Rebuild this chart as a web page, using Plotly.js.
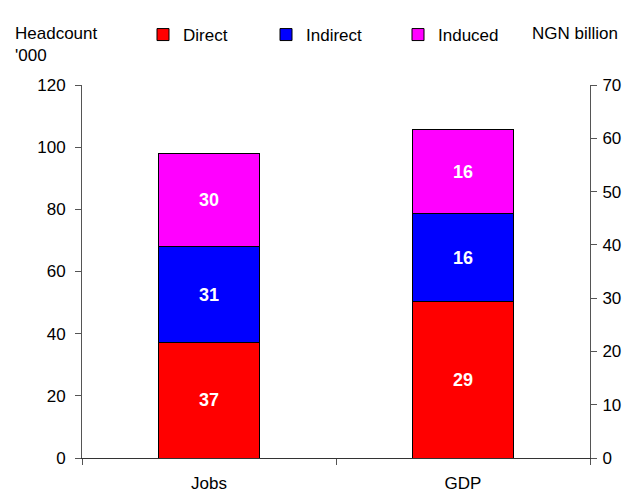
<!DOCTYPE html>
<html>
<head>
<meta charset="utf-8">
<script src="https://cdn.plot.ly/plotly-3.0.1.min.js"></script>
<style>html,body{margin:0;padding:0;background:#fff;}#chart{width:625px;height:493px;}</style>
</head>
<body>
<div id="chart"></div>
<script>
// Data
const categories = ['Jobs', 'GDP'];
const seriesNames = ['Direct', 'Indirect', 'Induced'];
const jobsValues = [37, 31, 30];          // headcount '000 (left axis)
const gdpValues = [29.4, 16.4, 15.9];     // NGN billion (right axis)
const leftTicks = [0, 20, 40, 60, 80, 100, 120];
const rightTicks = [0, 10, 20, 30, 40, 50, 60, 70];

const colors = ['#ff0000', '#0000ff', '#ff00ff'];
const FONT = 'Liberation Sans, Arial, sans-serif';
const legendIds = ['legend', 'legend2', 'legend3'];

const traces = [];
seriesNames.forEach((name, i) => {
  traces.push({
    type: 'bar', name: name, x: [categories[0]], y: [jobsValues[i]],
    xaxis: 'x', yaxis: 'y',
    marker: {color: colors[i], line: {color: '#000', width: 1}},
    texttemplate: '%{y:.0f}', textposition: 'inside',
    insidetextanchor: 'middle', textangle: 0,
    textfont: {family: FONT, size: 18, color: '#fff', weight: 'bold'},
    legend: legendIds[i], showlegend: true, hoverinfo: 'skip'
  });
  traces.push({
    type: 'bar', name: name, x: [categories[1]], y: [gdpValues[i]],
    xaxis: 'x', yaxis: 'y2',
    marker: {color: colors[i], line: {color: '#000', width: 1}},
    texttemplate: '%{y:.0f}', textposition: 'inside',
    insidetextanchor: 'middle', textangle: 0,
    textfont: {family: FONT, size: 18, color: '#fff', weight: 'bold'},
    legend: legendIds[i], showlegend: false, hoverinfo: 'skip'
  });
});

const L = 82, R = 35, W = 625, T = 85, B = 35, H = 493;
const pw = W - L - R, ph = H - T - B;
function px2x(p) { return (p - L) / pw; }
function py2y(p) { return (H - B - p) / ph; }

function legendAt(xpx) {
  return {
    orientation: 'h', x: px2x(xpx), xanchor: 'left', y: py2y(17), yanchor: 'top',
    font: {family: FONT, size: 17, color: '#000'}, bgcolor: 'rgba(0,0,0,0)',
    borderwidth: 0
  };
}

const layout = {
  width: W, height: H,
  margin: {l: L, r: R, t: T, b: B},
  paper_bgcolor: '#fff', plot_bgcolor: '#fff',
  barmode: 'stack', bargap: 0.6,
  font: {family: FONT, size: 17, color: '#000'},
  xaxis: {
    type: 'category', categoryorder: 'array', categoryarray: categories,
    range: [-0.5, 1.5], tickson: 'boundaries', ticks: 'outside', ticklen: 6,
    tickcolor: '#555', showline: true, linecolor: '#333', linewidth: 1,
    showgrid: false, zeroline: false, ticklabelstandoff: 10,
    tickfont: {family: FONT, size: 17, color: '#000'}
  },
  yaxis: {
    range: [0, 120], tickvals: leftTicks, ticks: 'outside', ticklen: 6,
    tickcolor: '#555', showline: true, linecolor: '#555', linewidth: 1,
    showgrid: false, zeroline: false, ticklabelstandoff: 6,
    tickfont: {family: FONT, size: 17, color: '#000'}
  },
  yaxis2: {
    overlaying: 'y', side: 'right', range: [0, 70], tickvals: rightTicks,
    ticks: 'outside', ticklen: 6, tickcolor: '#555', showline: true,
    linecolor: '#555', linewidth: 1, showgrid: false, zeroline: false,
    ticklabelstandoff: 2, tickfont: {family: FONT, size: 17, color: '#000'}
  },
  legend: legendAt(143),
  legend2: legendAt(266),
  legend3: legendAt(398),
  annotations: [
    {xref: 'paper', yref: 'paper', x: px2x(13), y: py2y(22), xanchor: 'left', yanchor: 'top',
     text: 'Headcount', showarrow: false, font: {family: FONT, size: 17, color: '#000'}},
    {xref: 'paper', yref: 'paper', x: px2x(13), y: py2y(44), xanchor: 'left', yanchor: 'top',
     text: "'000", showarrow: false, font: {family: FONT, size: 17, color: '#000'}},
    {xref: 'paper', yref: 'paper', x: px2x(620), y: py2y(22), xanchor: 'right', yanchor: 'top',
     text: 'NGN billion', showarrow: false, font: {family: FONT, size: 17, color: '#000'}}
  ]
};

Plotly.newPlot('chart', traces, layout, {displayModeBar: false, staticPlot: true});
</script>
</body>
</html>
